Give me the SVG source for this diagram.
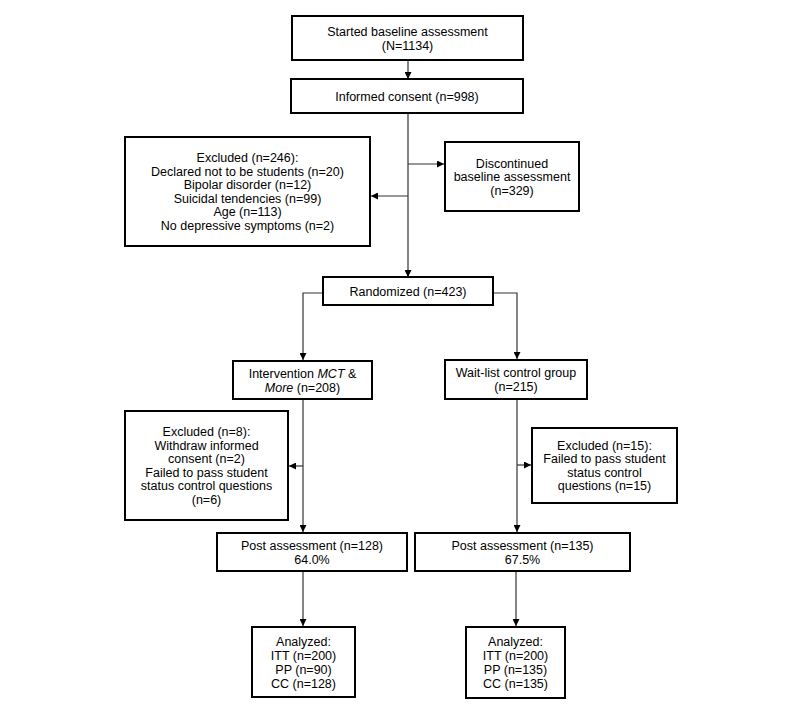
<svg xmlns="http://www.w3.org/2000/svg" width="800" height="716" viewBox="0 0 800 716">
<style>
.box{fill:#fff;stroke:#000;stroke-width:2}
text{font-family:"Liberation Sans",Arial,sans-serif;font-size:12.5px;fill:#000;text-anchor:middle}
.ln{fill:none;stroke:#333;stroke-width:1.2}
</style>
<defs>
<marker id="ah" markerUnits="userSpaceOnUse" markerWidth="7" markerHeight="7" refX="7" refY="3.5" orient="auto">
<path d="M0,0 L7,3.5 L0,7 z" fill="#000"/>
</marker>
</defs>
<rect width="800" height="716" fill="#fff"/>
<g id="connectors">
<line class="ln" x1="408" y1="60" x2="408" y2="79" marker-end="url(#ah)"/>
<line class="ln" x1="408" y1="113" x2="408" y2="277" marker-end="url(#ah)"/>
<line class="ln" x1="408" y1="196" x2="371" y2="196" marker-end="url(#ah)"/>
<line class="ln" x1="408" y1="164" x2="444" y2="164" marker-end="url(#ah)"/>
<polyline class="ln" points="323,293 303,293 303,360" marker-end="url(#ah)"/>
<polyline class="ln" points="493,293 517,293 517,359" marker-end="url(#ah)"/>
<line class="ln" x1="303" y1="399" x2="303" y2="532" marker-end="url(#ah)"/>
<line class="ln" x1="303" y1="466" x2="289" y2="466" marker-end="url(#ah)"/>
<line class="ln" x1="517" y1="399" x2="517" y2="532" marker-end="url(#ah)"/>
<line class="ln" x1="517" y1="465" x2="531" y2="465" marker-end="url(#ah)"/>
<line class="ln" x1="303" y1="571" x2="303" y2="626" marker-end="url(#ah)"/>
<line class="ln" x1="516" y1="571" x2="516" y2="626" marker-end="url(#ah)"/>
</g>
<g id="started">
<rect class="box" x="292" y="16" width="231" height="44"/>
<text x="407.5" y="36">Started baseline assessment</text>
<text x="407.5" y="50">(N=1134)</text>
</g>
<g id="consent">
<rect class="box" x="291" y="79" width="232" height="34"/>
<text x="407" y="100.5">Informed consent (n=998)</text>
</g>
<g id="excluded1">
<rect class="box" x="125" y="137" width="245" height="109"/>
<text x="247.5" y="162">Excluded (n=246):</text>
<text x="247.5" y="175.5">Declared not to be students (n=20)</text>
<text x="247.5" y="189">Bipolar disorder (n=12)</text>
<text x="247.5" y="202.5">Suicidal tendencies (n=99)</text>
<text x="247.5" y="216">Age (n=113)</text>
<text x="247.5" y="229.5">No depressive symptoms (n=2)</text>
</g>
<g id="discontinued">
<rect class="box" x="445" y="142" width="134" height="69"/>
<text x="512" y="167.5">Discontinued</text>
<text x="512" y="181">baseline assessment</text>
<text x="512" y="194.5">(n=329)</text>
</g>
<g id="randomized">
<rect class="box" x="323" y="277" width="170" height="28"/>
<text x="408" y="295.5">Randomized (n=423)</text>
</g>
<g id="intervention">
<rect class="box" x="233" y="361" width="139" height="38"/>
<text x="302.5" y="377.5">Intervention <tspan font-style="italic">MCT</tspan> &amp;</text>
<text x="302.5" y="391.5"><tspan font-style="italic">More</tspan> (n=208)</text>
</g>
<g id="waitlist">
<rect class="box" x="445" y="360" width="142" height="39"/>
<text x="516" y="377">Wait-list control group</text>
<text x="516" y="391">(n=215)</text>
</g>
<g id="excluded2">
<rect class="box" x="125" y="411" width="163" height="109"/>
<text x="206.5" y="436">Excluded (n=8):</text>
<text x="206.5" y="449.5">Withdraw informed</text>
<text x="206.5" y="463">consent (n=2)</text>
<text x="206.5" y="476.5">Failed to pass student</text>
<text x="206.5" y="490">status control questions</text>
<text x="206.5" y="503.5">(n=6)</text>
</g>
<g id="excluded3">
<rect class="box" x="532" y="428" width="145" height="75"/>
<text x="604.5" y="449.5">Excluded (n=15):</text>
<text x="604.5" y="463">Failed to pass student</text>
<text x="604.5" y="476.5">status control</text>
<text x="604.5" y="490">questions (n=15)</text>
</g>
<g id="post1">
<rect class="box" x="217" y="533" width="190" height="38"/>
<text x="312" y="549.5">Post assessment (n=128)</text>
<text x="312" y="563.5">64.0%</text>
</g>
<g id="post2">
<rect class="box" x="415" y="533" width="215" height="38"/>
<text x="522.5" y="549.5">Post assessment (n=135)</text>
<text x="522.5" y="563.5">67.5%</text>
</g>
<g id="analyzed1">
<rect class="box" x="252" y="627" width="103" height="70"/>
<text x="303.5" y="645.5">Analyzed:</text>
<text x="303.5" y="659.5">ITT (n=200)</text>
<text x="303.5" y="673.5">PP (n=90)</text>
<text x="303.5" y="687.5">CC (n=128)</text>
</g>
<g id="analyzed2">
<rect class="box" x="466" y="627" width="99" height="71"/>
<text x="515.5" y="645.5">Analyzed:</text>
<text x="515.5" y="659.5">ITT (n=200)</text>
<text x="515.5" y="673.5">PP (n=135)</text>
<text x="515.5" y="687.5">CC (n=135)</text>
</g>
</svg>
